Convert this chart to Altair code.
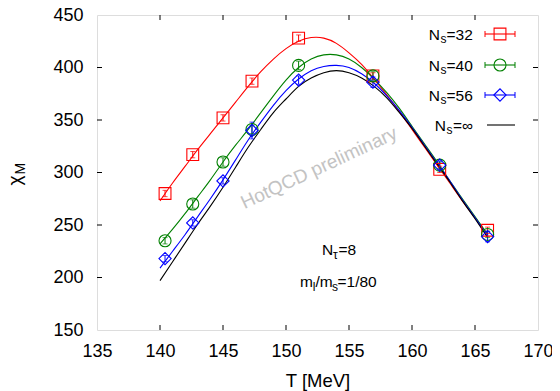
import altair as alt
import pandas as pd

# ---------------- data ----------------
series = ["Ns=32", "Ns=40", "Ns=56", "Ns=inf"]
colors = ["#ff0000", "#008000", "#0000ff", "#000000"]
shapes = ["square", "circle", "diamond"]

T_data = [140.4, 142.6, 145.0, 147.3, 151.0, 156.9, 162.2, 166.0]
chi_32 = [280, 317, 352, 387, 428, 392, 303, 245]
err_32 = [3, 3, 3, 3, 3, 3, 3, 3]
chi_40 = [235, 270, 310, 341, 402, 392, 307, 241]
err_40 = [3, 4, 4, 4, 4, 4, 3, 3]
chi_56 = [218, 252, 292, 340, 388, 386, 307, 239]
err_56 = [3, 3, 3, 8, 4, 5, 4, 5]

T_fit = [140, 141, 142, 143, 144, 145, 146, 147, 148, 149, 150, 151, 152, 153,
         154, 155, 156, 157, 158, 159, 160, 161, 162, 163, 164, 165, 166]
fit_32 = [273, 290, 306, 322, 337, 352, 367, 382, 396, 408, 418, 425, 428.5, 428,
          423, 414, 403, 389, 374, 358, 341, 324, 307, 290, 273, 257, 241]
fit_40 = [232, 246, 261, 277, 293, 310, 326, 341, 357, 373, 388, 400, 408, 412,
          412, 408, 400, 389, 376, 361, 344, 327, 310, 292, 275, 258, 241]
fit_56 = [209, 225, 241, 258, 275, 293, 312, 331, 348, 364, 378, 389, 397, 401,
          402, 400, 394, 385, 373, 359, 343, 326, 309, 292, 274, 257, 239]
fit_inf = [197, 215, 233, 251, 268, 286, 305, 324, 341, 357, 370, 382, 390, 395,
           397, 395, 390, 382, 371, 357, 342, 325, 308, 291, 273, 256, 238]

x_labels = [135, 140, 145, 150, 155, 160, 165, 170]
y_labels = [150, 200, 250, 300, 350, 400, 450]
x_ticks = [140, 145, 150, 155, 160, 165]
y_ticks = [200, 250, 300, 350, 400]
legend_values = ["32", "40", "56"]

FONT = "Liberation Sans"
W, H = 441, 315

# ---------------- tables ----------------
pts = []
for s, chis, errs in zip(series[:3], [chi_32, chi_40, chi_56], [err_32, err_40, err_56]):
    for t, c, e in zip(T_data, chis, errs):
        pts.append({"series": s, "T": t, "chi": c, "lo": c - e, "hi": c + e})
pts = pd.DataFrame(pts)

fits = []
for s, vals in zip(series, [fit_32, fit_40, fit_56, fit_inf]):
    for t, v in zip(T_fit, vals):
        fits.append({"series": s, "T": t, "chi": v})
fits = pd.DataFrame(fits)

xs = alt.Scale(domain=[135, 170], nice=False, zero=False)
ys = alt.Scale(domain=[150, 450], nice=False, zero=False)
cs = alt.Scale(domain=series, range=colors)
ss = alt.Scale(domain=series[:3], range=shapes)

axis_common = dict(title=None, labelFont=FONT, labelFontSize=18, labelColor="black",
                   ticks=False, tickSize=0, domain=False, grid=False, labelFlush=False,
                   labelOverlap=False)
base_x = alt.X("T:Q", scale=xs, axis=alt.Axis(values=x_labels, labelPadding=12, **axis_common))
base_y = alt.Y("chi:Q", scale=ys, axis=alt.Axis(values=y_labels, labelPadding=14, **axis_common))

curves = alt.Chart(fits).mark_line(strokeWidth=1.1, interpolate="natural").encode(
    x=base_x, y=base_y,
    color=alt.Color("series:N", scale=cs, legend=None),
    detail="series:N",
)

ebars = alt.Chart(pts).mark_rule(strokeWidth=1).encode(
    x="T:Q", y="lo:Q", y2="hi:Q",
    color=alt.Color("series:N", scale=cs, legend=None),
)
cap_lo = alt.Chart(pts).mark_tick(orient="horizontal", size=5, thickness=1).encode(
    x="T:Q", y="lo:Q", color=alt.Color("series:N", scale=cs, legend=None))
cap_hi = alt.Chart(pts).mark_tick(orient="horizontal", size=5, thickness=1).encode(
    x="T:Q", y="hi:Q", color=alt.Color("series:N", scale=cs, legend=None))

sizes = alt.Scale(domain=series[:3], range=[140, 150, 175])
points = alt.Chart(pts).mark_point(filled=False, strokeWidth=1.1, opacity=1).encode(
    x="T:Q", y="chi:Q",
    color=alt.Color("series:N", scale=cs, legend=None),
    shape=alt.Shape("series:N", scale=ss, legend=None),
    size=alt.Size("series:N", scale=sizes, legend=None),
)

# inward ticks on all four sides
xt = pd.DataFrame({"T": x_ticks})
yt = pd.DataFrame({"chi": y_ticks})
tick_b = alt.Chart(xt).mark_rule(color="black", strokeWidth=1).encode(
    x="T:Q", y=alt.value(H), y2=alt.value(H - 5))
tick_t = alt.Chart(xt).mark_rule(color="black", strokeWidth=1).encode(
    x="T:Q", y=alt.value(0), y2=alt.value(5))
tick_l = alt.Chart(yt).mark_rule(color="black", strokeWidth=1).encode(
    y="chi:Q", x=alt.value(0), x2=alt.value(5))
tick_r = alt.Chart(yt).mark_rule(color="black", strokeWidth=1).encode(
    y="chi:Q", x=alt.value(W), x2=alt.value(W - 5))

# ---------------- legend (manual, for subscripts) ----------------
row_y = [19, 50, 80]
leg_sym = pd.DataFrame({"series": series[:3], "px": [403] * 3, "py": row_y})
leg_lines = pd.DataFrame({"series": series[:3] + ["Ns=inf"],
                          "x1": [388, 388, 388, 390], "x2": [418, 418, 418, 418],
                          "py": row_y + [110]})
leg_caps = pd.DataFrame({"series": series[:3] * 2,
                         "px": [388] * 3 + [418] * 3,
                         "y1": [y - 3 for y in row_y] * 2,
                         "y2": [y + 3 for y in row_y] * 2})

l_lines = alt.Chart(leg_lines).mark_rule(strokeWidth=1.1).encode(
    x=alt.X("x1:Q", scale=None), x2="x2:Q", y=alt.Y("py:Q", scale=None),
    color=alt.Color("series:N", scale=cs, legend=None))
l_caps = alt.Chart(leg_caps).mark_rule(strokeWidth=1).encode(
    x=alt.X("px:Q", scale=None), y=alt.Y("y1:Q", scale=None), y2="y2:Q",
    color=alt.Color("series:N", scale=cs, legend=None))
l_sym = alt.Chart(leg_sym).mark_point(filled=False, strokeWidth=1.1, opacity=1).encode(
    x=alt.X("px:Q", scale=None), y=alt.Y("py:Q", scale=None),
    color=alt.Color("series:N", scale=cs, legend=None),
    shape=alt.Shape("series:N", scale=ss, legend=None),
    size=alt.Size("series:N", scale=sizes, legend=None))

# text pieces: (text, x, y, size)
txt_left = []
txt_right = []
for yc, v in zip(row_y, legend_values):
    txt_right.append(("N", 343, yc + 5.5, 15.5))
    txt_left.append(("s", 343.5, yc + 9, 12))
    txt_left.append(("=" + v, 349.5, yc + 5.5, 15.5))
txt_right.append(("N", 349, 110 + 5.5, 15.5))
txt_left.append(("s", 349.5, 110 + 9, 12))
txt_left.append(("=\u221e", 356, 110 + 5.5, 15.5))
# N_tau = 8
txt_left += [("N", 225, 240, 15.5), ("\u03c4", 236, 244, 12), ("=8", 241.5, 240, 15.5)]
# m_l/m_s = 1/80
txt_left += [("m", 203, 271.7, 15.5), ("l", 215.8, 275.5, 12), ("/m", 218.5, 271.7, 15.5),
             ("s", 235, 275.5, 12), ("=1/80", 240.5, 271.7, 15.5)]


def text_layer(items, align, angle=0, color="black", baseline="alphabetic"):
    df = pd.DataFrame(items, columns=["t", "px", "py", "fs"])
    return alt.Chart(df).mark_text(align=align, baseline=baseline, font=FONT,
                                   angle=angle, color=color).encode(
        x=alt.X("px:Q", scale=None), y=alt.Y("py:Q", scale=None),
        text="t:N", size=alt.Size("fs:Q", scale=None, legend=None))


t_left = text_layer(txt_left, "left")
t_right = text_layer(txt_right, "right")
t_ylab = text_layer([("\u03c7", -76, 170.5, 19), ("M", -72.5, 159.5, 14)], "left", angle=270)
t_xlab = text_layer([("T [MeV]", 221, 372, 18.5)], "center")
t_mark = text_layer([("HotQCD preliminary", 222, 153, 19)], "center", angle=335,
                    color="#c3c3c3", baseline="middle")

chart = alt.layer(
    t_mark, curves, ebars, cap_lo, cap_hi, points,
    tick_b, tick_t, tick_l, tick_r,
    l_lines, l_caps, l_sym, t_left, t_right, t_ylab, t_xlab,
).properties(
    width=W, height=H,
    autosize=alt.AutoSizeParams(type="none"),
    padding={"left": 89, "top": 7, "right": 14, "bottom": 61},
).configure_view(
    stroke="black", strokeWidth=1.2,
).configure(background="white")

chart.save("out.html", embed_options={"renderer": "svg", "actions": False})
